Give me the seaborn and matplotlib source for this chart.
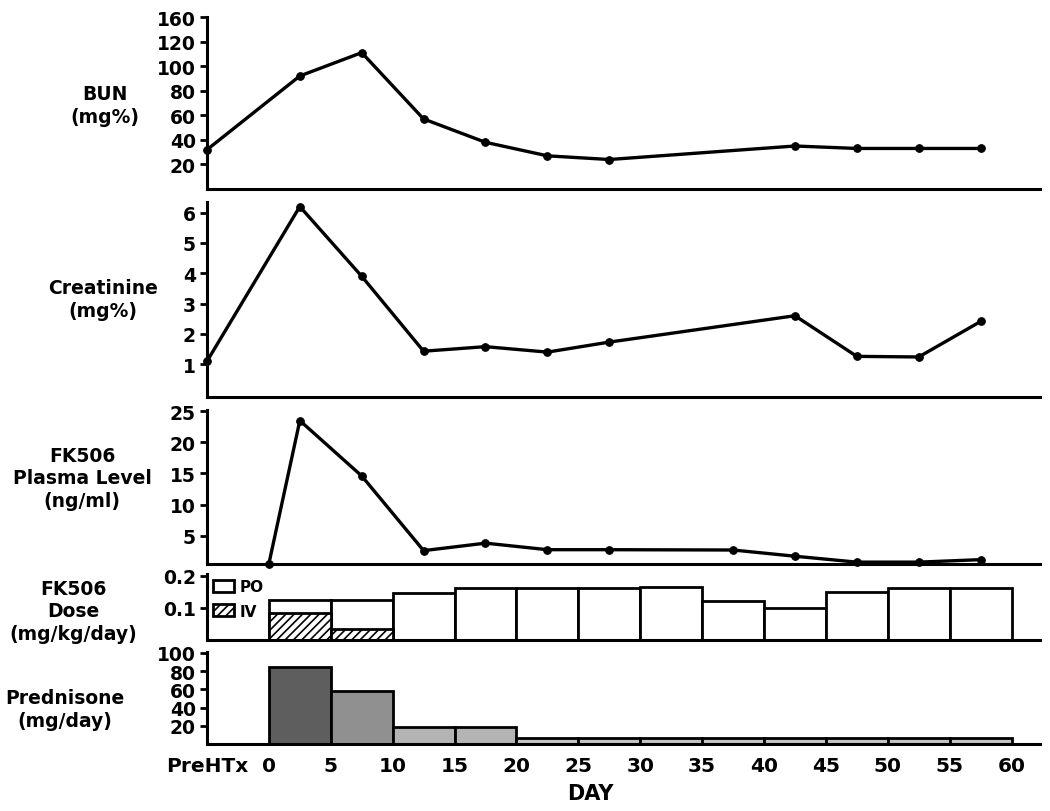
import matplotlib
matplotlib.use('Agg')
import matplotlib.pyplot as plt
from matplotlib.patches import Patch
import numpy as np
import seaborn as sns

# ── Datos ─────────────────────────────────────────────
bun_dias = [-5, 2.5, 7.5, 12.5, 17.5, 22.5, 27.5, 42.5, 47.5, 52.5, 57.5]
bun_valores = [32, 92, 111, 57, 38, 27, 24, 35, 33, 33, 33]

creat_dias = [-5, 2.5, 7.5, 12.5, 17.5, 22.5, 27.5, 42.5, 47.5, 52.5, 57.5]
creat_valores = [1.1, 6.2, 3.9, 1.43, 1.58, 1.4, 1.73, 2.6, 1.26, 1.24, 2.41]

fk_dias = [0, 2.5, 7.5, 12.5, 17.5, 22.5, 27.5, 37.5, 42.5, 47.5, 52.5, 57.5]
fk_valores = [0.5, 23.5, 14.6, 2.6, 3.8, 2.75, 2.75, 2.7, 1.7, 0.75, 0.75, 1.15]

dosis_inicio = [0, 5, 10, 15, 20, 25, 30, 35, 40, 45, 50, 55]
dosis_total = [0.124, 0.124, 0.145, 0.16, 0.16, 0.16, 0.165, 0.121, 0.098, 0.149, 0.16, 0.16]
dosis_iv = [0.083, 0.034, 0, 0, 0, 0, 0, 0, 0, 0, 0, 0]

pred_inicio = [0, 5, 10, 15, 20, 25, 30, 35, 40, 45, 50, 55]
pred_valores = [85, 58, 19, 19, 7, 7, 7, 7, 7, 7, 7, 7]

x_ticks = [-5, 0, 5, 10, 15, 20, 25, 30, 35, 40, 45, 50, 55, 60]
x_labels = ['PreHTx', '0', '5', '10', '15', '20', '25', '30', '35', '40', '45', '50', '55', '60']

bun_ticks = [20, 40, 60, 80, 100, 120, 140]
bun_tick_labels = ['20', '40', '60', '80', '100', '120', '160']

# ── Estilo ────────────────────────────────────────────
sns.set_style('ticks')
plt.rcParams['font.family'] = ['DejaVu Sans']
plt.rcParams['font.weight'] = 'bold'
plt.rcParams['hatch.linewidth'] = 1.2

W, H = 1050, 812
fig = plt.figure(figsize=(W / 100, H / 100), dpi=100)

def crear_eje(top, bottom):
    ax = fig.add_axes([207 / W, 1 - bottom / H, (1040 - 207) / W, (bottom - top) / H])
    ax.set_xlim(-5, 62.3)
    sns.despine(ax=ax)
    for s in ['left', 'bottom']:
        ax.spines[s].set_linewidth(2.2)
        ax.spines[s].set_color('black')
    ax.tick_params(axis='y', length=5, width=2, pad=3, labelsize=13.5, colors='black')
    ax.tick_params(axis='x', length=0)
    ax.set_xticks([])
    ax.set_facecolor('white')
    return ax

linea = dict(color='black', lw=2.4, marker='o', markersize=5.5,
             markeredgecolor='black', markerfacecolor='black', clip_on=False)

# Panel 1 — BUN
ax1 = crear_eje(18, 190)
sns.lineplot(x=bun_dias, y=bun_valores, ax=ax1, **linea)
ax1.set_ylim(0, 140)
ax1.set_yticks(bun_ticks)
ax1.set_yticklabels(bun_tick_labels)

# Panel 2 — Creatinina
ax2 = crear_eje(203, 398)
sns.lineplot(x=creat_dias, y=creat_valores, ax=ax2, **linea)
ax2.set_ylim(-0.08, 6.35)
ax2.set_yticks([1, 2, 3, 4, 5, 6])

# Panel 3 — FK506 plasma
ax3 = crear_eje(411, 565)
sns.lineplot(x=fk_dias, y=fk_valores, ax=ax3, **linea)
ax3.set_ylim(0.45, 25.2)
ax3.set_yticks([5, 10, 15, 20, 25])

# Panel 4 — FK506 dosis
ax4 = crear_eje(575, 641)
ax4.bar(dosis_inicio, dosis_total, width=5, align='edge', facecolor='white',
        edgecolor='black', linewidth=2)
ax4.bar(dosis_inicio, dosis_iv, width=5, align='edge', facecolor='white',
        edgecolor='black', linewidth=2, hatch='////')
ax4.set_ylim(0, 0.205)
ax4.set_yticks([0.1, 0.2])
ax4.set_yticklabels(['0.1', '0.2'])
leg = ax4.legend(handles=[Patch(facecolor='white', edgecolor='black', lw=2, label='PO'),
                          Patch(facecolor='white', edgecolor='black', lw=2, hatch='////', label='IV')],
                 loc='upper left', bbox_to_anchor=(0.0, 1.01), frameon=False,
                 fontsize=11, handlelength=1.4, handleheight=0.8, handletextpad=0.35,
                 labelspacing=0.6, borderaxespad=0.2, borderpad=0.2)
for t in leg.get_texts():
    t.set_color('black')
    t.set_fontweight('bold')

# Panel 5 — Prednisona
ax5 = crear_eje(653, 745)
grises = ['#5e5e5e', '#909090', '#b4b4b4', '#b4b4b4'] + ['#c4c4c4'] * 8
ax5.bar(pred_inicio, pred_valores, width=5, align='edge', color=grises,
        edgecolor='black', linewidth=2)
ax5.set_ylim(0, 101)
ax5.set_yticks([20, 40, 60, 80, 100])
ax5.set_xticks(x_ticks)
ax5.set_xticklabels(x_labels, fontsize=14.5)
ax5.tick_params(axis='x', length=0, pad=9, colors='black')

# Etiquetas de los ejes Y (horizontales)
etiquetas = [
    ('BUN\n(mg%)', 105, 106),
    ('Creatinine\n(mg%)', 103, 300),
    ('FK506\nPlasma Level\n(ng/ml)', 82, 479),
    ('FK506\nDose\n(mg/kg/day)', 73, 612),
    ('Prednisone\n(mg/day)', 65, 710),
]
for texto, x, y in etiquetas:
    fig.text(x / W, 1 - y / H, texto, ha='center', va='center', fontsize=13.5,
             fontweight='bold', linespacing=1.25, color='black')

fig.text(590 / W, 1 - 794 / H, 'DAY', ha='center', va='center', fontsize=15,
         fontweight='bold', color='black')

plt.savefig('out.png', dpi=100, facecolor='white')
plt.close()
